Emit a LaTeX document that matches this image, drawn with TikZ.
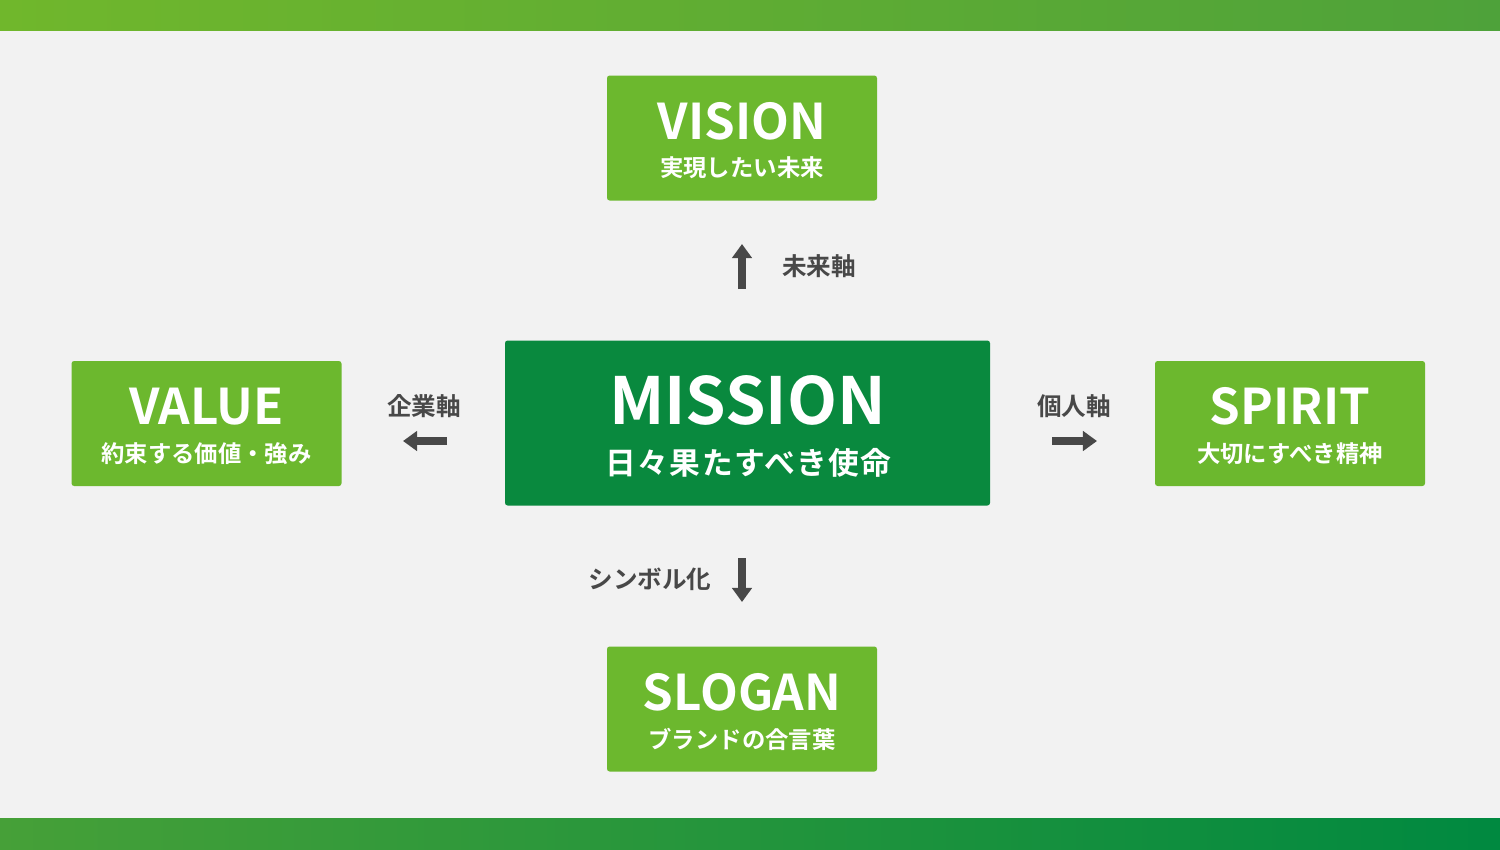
\documentclass[tikz,border=0pt]{standalone}
\usepackage{fontspec}
\setmainfont{Noto Sans CJK JP}[BoldFont={Noto Sans CJK JP Bold}]
\usetikzlibrary{arrows.meta,positioning}
\definecolor{leaf}{RGB}{108,184,46}
\definecolor{forest}{RGB}{9,137,62}
\definecolor{paper}{RGB}{242,242,242}
\definecolor{ink}{RGB}{72,72,72}
\definecolor{topL}{RGB}{112,183,44}
\definecolor{topR}{RGB}{78,162,58}
\definecolor{botL}{RGB}{70,160,56}
\definecolor{botR}{RGB}{0,137,64}
\tikzstyle{leafbox} = [rectangle, rounded corners=1.5pt, fill=leaf,
minimum width=270*0.02cm, minimum height=125*0.02cm, inner sep=0pt]
\tikzstyle{missionbox} = [rectangle, rounded corners=1.5pt, fill=forest,
minimum width=485*0.02cm, minimum height=165*0.02cm, inner sep=0pt]
\tikzstyle{boxtitle} = [text=white, inner sep=0pt, font=\bfseries\fontsize{28}{28}\selectfont]
\tikzstyle{boxsub} = [text=white, inner sep=0pt, font=\bfseries\fontsize{13.3}{13.3}\selectfont]
\tikzstyle{axislabel} = [text=ink, inner sep=0pt, font=\bfseries\fontsize{14}{14}\selectfont]
\tikzstyle{axisarrow} = [-{Triangle[width=11pt,length=8pt]}, line width=4pt, draw=ink]

\begin{document}
\begin{tikzpicture}[x=0.02cm,y=-0.02cm]
% background and bands
\fill[paper] (0,0) rectangle (1500,849);
\shade[left color=topL,right color=topR] (0,0) rectangle (1500,30);
\shade[left color=botL,right color=botR] (0,818) rectangle (1500,849);
% outer boxes
\foreach \N/\X/\Y/\T/\S in
  {vision/742/138/VISION/実現したい未来,
   value/206.5/423.5/VALUE/約束する価値・強み,
   spirit/1290/423.5/SPIRIT/大切にすべき精神,
   slogan/742/709/SLOGAN/ブランドの合言葉}
  {\node[leafbox] (\N) at (\X,\Y) {};
  \node[boxtitle] (\N-title) at (\X,\Y-17) {\T};
  \node[boxsub] (\N-sub) at (\X,\Y+30) {\S};}
% centre box
\node[missionbox] (mission) at (747.5,423) {};
\node[boxtitle, font=\bfseries\fontsize{37}{37}\selectfont] (mission-title) at (747.5,400) {MISSION};
\node[boxsub, font=\bfseries\fontsize{17.5}{17.5}\selectfont\addfontfeature{LetterSpace=4.5}] (mission-sub) at (748.5,463) {日々果たすべき使命};
% axes
\coordinate (up-a) at (742,289);
\coordinate (up-b) at (742,244);
\coordinate (left-a) at (447,441);
\coordinate (left-b) at (403,441);
\coordinate (right-a) at (1052,441);
\coordinate (right-b) at (1097,441);
\coordinate (down-a) at (742,558);
\coordinate (down-b) at (742,602);
\draw[axisarrow] (up-a) -- (up-b);
\draw[axisarrow] (left-a) -- (left-b);
\draw[axisarrow] (right-a) -- (right-b);
\draw[axisarrow] (down-a) -- (down-b);
\node[axislabel] (future) at (819,266) {未来軸};
\node[axislabel] (company) at (424,406) {企業軸};
\node[axislabel] (person) at (1074,406) {個人軸};
\node[axislabel] (symbol) at (650,579) {シンボル化};
\end{tikzpicture}
\end{document}
